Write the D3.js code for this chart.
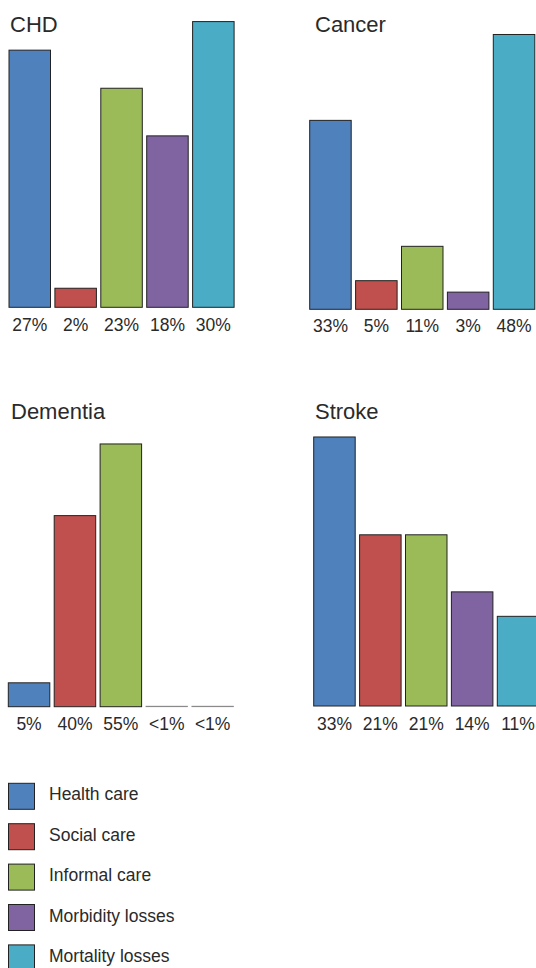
<!DOCTYPE html>
<html>
<head>
<meta charset="utf-8">
<script src="https://cdn.jsdelivr.net/npm/d3@7"></script>
<style>
  html, body { margin: 0; padding: 0; background: #fff; }
  svg { display: block; }
  text { font-family: "Liberation Sans", Arial, Helvetica, sans-serif; fill: #2a2a2a; }
</style>
</head>
<body>
<svg id="chart" width="536" height="968"></svg>
<script>
// ---- data ----
const categories = ["Health care", "Social care", "Informal care", "Morbidity losses", "Mortality losses"];
const panelNames = ["CHD", "Cancer", "Dementia", "Stroke"];
const chdValues      = [27, 2, 23, 18, 30];
const cancerValues   = [33, 5, 11, 3, 48];
const dementiaValues = [5, 40, 55, 0.1, 0.1];
const strokeValues   = [33, 21, 21, 14, 11];
const chdLabels      = ["27%", "2%", "23%", "18%", "30%"];
const cancerLabels   = ["33%", "5%", "11%", "3%", "48%"];
const dementiaLabels = ["5%", "40%", "55%", "<1%", "<1%"];
const strokeLabels   = ["33%", "21%", "21%", "14%", "11%"];
// domain maximum of each panel's value axis (each panel is scaled on its own)
const panelDomainMax = [31.5, 52.4, 62.8, 36.8];
const colors = ["#4F81BD", "#C0504D", "#9BBB59", "#8064A2", "#4BACC6"];

// ---- layout ----
const panels = [
  { name: panelNames[0], values: chdValues,      labels: chdLabels,      x0: 9,     base: 307.3, tx: 10,  ty: 32,  ly: 331 },
  { name: panelNames[1], values: cancerValues,   labels: cancerLabels,   x0: 309.7, base: 309.3, tx: 315, ty: 32,  ly: 331.5 },
  { name: panelNames[2], values: dementiaValues, labels: dementiaLabels, x0: 8.3,   base: 706.7, tx: 11,  ty: 419, ly: 730 },
  { name: panelNames[3], values: strokeValues,   labels: strokeLabels,   x0: 313.7, base: 706,   tx: 315, ty: 419, ly: 730 }
];
const plotH = 300;
const bandW = 225.1;

const svg = d3.select("#chart");
const color = d3.scaleOrdinal().domain(categories).range(colors);

panels.forEach((p, pi) => {
  const x = d3.scaleBand().domain(categories).range([p.x0, p.x0 + bandW])
    .paddingInner(0.0959).paddingOuter(0);
  const y = d3.scaleLinear().domain([0, panelDomainMax[pi]]).range([p.base, p.base - plotH]);
  const g = svg.append("g");

  g.append("text")
    .attr("x", p.tx).attr("y", p.ty)
    .attr("font-size", 22)
    .text(p.name);

  g.selectAll("rect").data(categories).join("rect")
    .attr("x", d => x(d))
    .attr("y", (d, i) => y(p.values[i]))
    .attr("width", x.bandwidth())
    .attr("height", (d, i) => y(0) - y(p.values[i]))
    .attr("fill", d => color(d))
    .attr("stroke", (d, i) => p.values[i] < 1 ? "#8a8a8a" : "#222")
    .attr("stroke-width", (d, i) => p.values[i] < 1 ? 0.8 : 1);

  g.selectAll("text.lbl").data(categories).join("text")
    .attr("class", "lbl")
    .attr("x", d => x(d) + x.bandwidth() / 2)
    .attr("y", p.ly)
    .attr("text-anchor", "middle")
    .attr("font-size", 17.5)
    .text((d, i) => p.labels[i]);
});

// ---- legend ----
const leg = svg.append("g");
const items = leg.selectAll("g").data(categories).join("g");
items.append("rect")
  .attr("x", 8.5)
  .attr("y", (d, i) => 783.3 + i * 40.4)
  .attr("width", 26).attr("height", 26)
  .attr("fill", d => color(d))
  .attr("stroke", "#222").attr("stroke-width", 1);
items.append("text")
  .attr("x", 49)
  .attr("y", (d, i) => 800 + i * 40.6)
  .attr("font-size", 17.5)
  .text(d => d);
</script>
</body>
</html>
